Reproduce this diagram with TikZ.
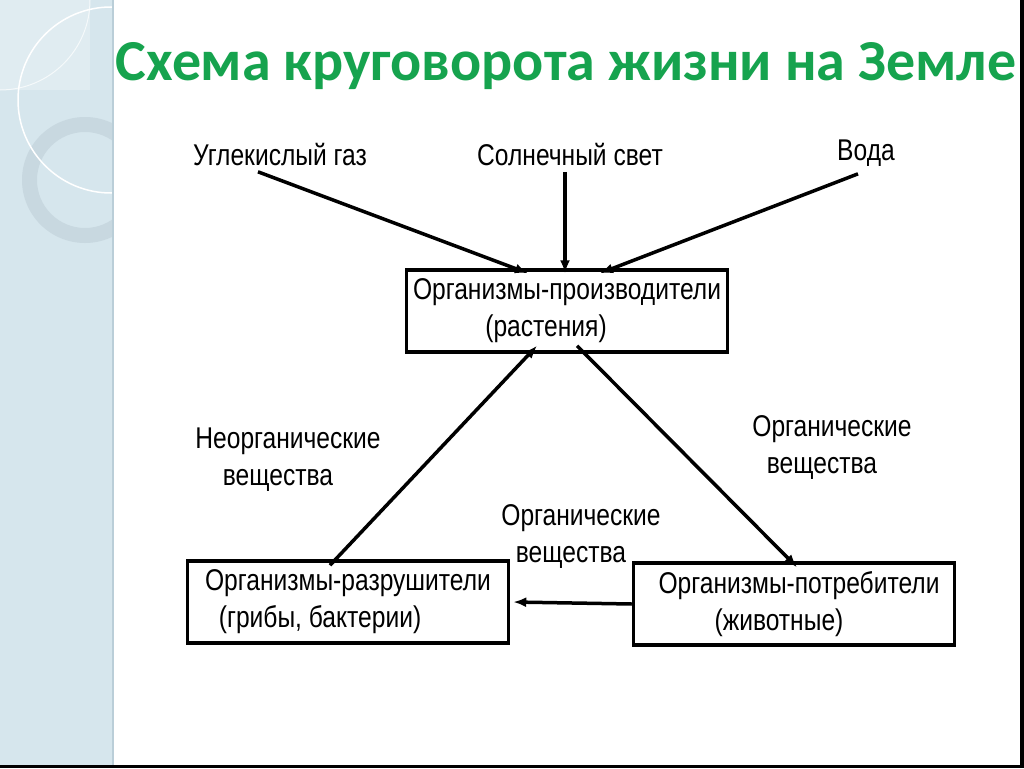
\documentclass[tikz,border=0pt]{standalone}
\usepackage{fontspec}
\setmainfont[FakeStretch=0.82]{Liberation Sans}
\newfontfamily\titlefont{Carlito}
\usetikzlibrary{arrows.meta}
\definecolor{titlegreen}{RGB}{22,163,78}
\definecolor{stripblue}{RGB}{214,230,237}
\definecolor{ringblue}{RGB}{200,216,224}
\definecolor{stripedge}{RGB}{186,206,216}
\begin{document}
\begin{tikzpicture}[x=1pt,y=-1pt,>={Latex[length=13pt,width=10pt]},
    box/.style={draw,line width=3.5pt,minimum width=321pt,minimum height=82pt,
        align=center,font=\fontsize{30}{37}\selectfont},
    lbl/.style={align=center,font=\fontsize{30}{37}\selectfont},
    arr/.style={->,line width=3.5pt}]
    \useasboundingbox (0,0) rectangle (1024,768);
    % background
    \fill[white] (0,0) rectangle (1024,768);
    \fill[stripblue] (0,0) rectangle (113,768);
    \begin{scope}
        \clip (0,0) rectangle (113,768);
        \fill[white,opacity=.25] (0,0) rectangle (90,90);
        \draw[white,opacity=.7,line width=1pt] (0,0) circle (90);
        \fill[ringblue,even odd rule] (85,180) circle (63) (85,180) circle (48);
        \draw[white,line width=1.5pt] (111,100) circle (93);
    \end{scope}
    \draw[stripedge,line width=1.5pt] (113,0)--(113,768);
    \fill[black] (0,765) rectangle (1024,768);
    \fill[black] (1020,0) rectangle (1024,768);
    % title
    \node[text=titlegreen,font=\titlefont\bfseries\fontsize{58}{68}\selectfont]
        (title) at (566,66) {Схема круговорота жизни на Земле};
    % inputs
    \node[lbl] (co2) at (280,155) {Углекислый газ};
    \node[lbl] (sun) at (570,155) {Солнечный свет};
    \node[lbl] (water) at (866,153) {Вода};
    % boxes
    \node[box] (prod) at (567,311) {Организмы-производители\\(растения)\hspace*{42pt}};
    \node[box] (destr) at (348,602) {Организмы-разрушители\\(грибы, бактерии)\hspace*{56pt}};
    \node[box] (cons) at (794,604) {\hspace*{10pt}Организмы-потребители\\(животные)\hspace*{30pt}};
    % labels
    \node[lbl] (inorg) at (288,460) {Неорганические\\вещества\hspace*{20pt}};
    \node[lbl] (org1) at (832,448) {Органические\\вещества\hspace*{20pt}};
    \node[lbl] (org2) at (581,537) {Органические\\вещества\hspace*{20pt}};
    % arrows
    \draw[arr] ([xshift=-22pt,yshift=-2pt]co2.south) -- ([xshift=-39pt,yshift=-5pt]prod.north);
    \draw[arr] ([xshift=-5pt,yshift=-2pt]sun.south) -- ([xshift=-2pt,yshift=-5pt]prod.north);
    \draw[arr] ([xshift=-8pt,yshift=-4pt]water.south) -- ([xshift=33pt,yshift=-5pt]prod.north);
    \draw[arr] ([xshift=-18pt,yshift=-6pt]destr.north) -- ([xshift=-30pt,yshift=8pt]prod.south);
    \draw[arr] ([xshift=10pt,yshift=8pt]prod.south) -- ([xshift=3pt,yshift=-6pt]cons.north);
    \draw[arr] (cons.west) -- ([xshift=3pt]destr.east);
\end{tikzpicture}
\end{document}
